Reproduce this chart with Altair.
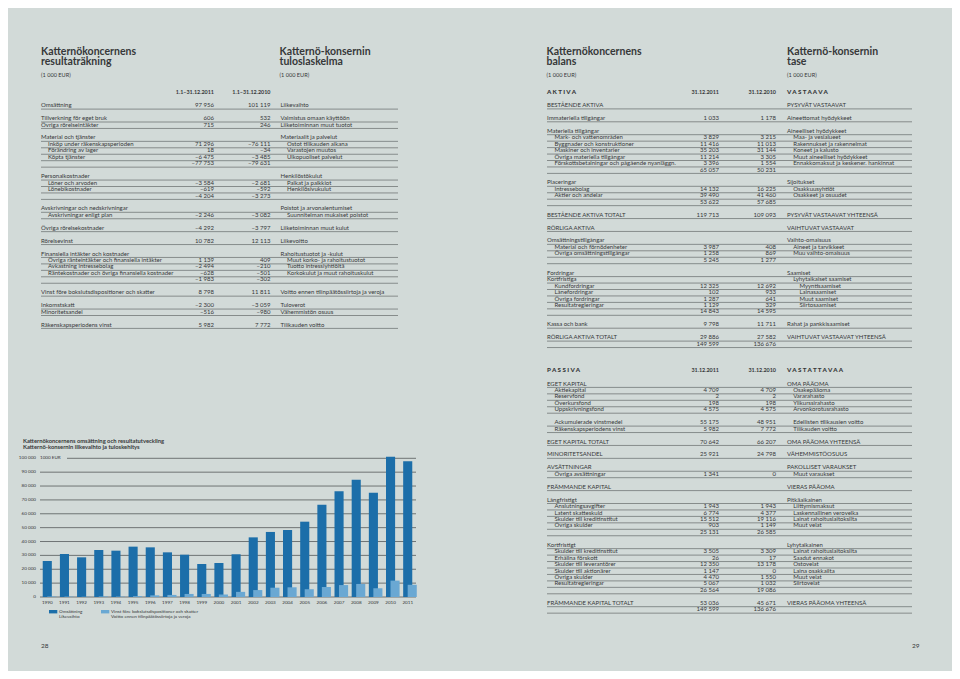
import altair as alt
import pandas as pd

# ---------------- data ----------------
years = [str(y) for y in range(1990, 2012)]
omsattning = [25900, 31000, 28600, 33900, 33400, 36300, 35800, 32200, 30500, 23800, 24500,
              30800, 43000, 46900, 48300, 54300, 66500, 76200, 84600, 75200, 101119, 97956]
vinst = [300, 300, 200, 400, 300, 600, 1200, 1500, 2200, 2200, 1800,
         3700, 5000, 6700, 7000, 5600, 7200, 8600, 9400, 6300, 11811, 8798]
y_ticks = [0, 10000, 20000, 30000, 40000, 50000, 60000, 70000, 80000, 90000, 100000]
y_tick_labels = ["0", "10 000", "20 000", "30 000", "40 000", "50 000", "60 000",
                 "70 000", "80 000", "90 000", "100 000"]
series_names = ["Omsättning|Likevaihto",
                "Vinst före bokslutsdispositioner och skatter|Voitto ennen tilinpäätössiirtoja ja veroja"]
series_colors = ["#1c6ea9", "#6aa8d3"]

left_titles = ["Katternökoncernens", "resultaträkning"]
left_titles_fi = ["Katternö-konsernin", "tuloslaskelma"]
right_titles = ["Katternökoncernens", "balans"]
right_titles_fi = ["Katternö-konsernin", "tase"]
unit_text = "(1 000 EUR)"
chart_title = ["Katternökoncernens omsättning och resultatutveckling",
               "Katternö-konsernin liikevaihto ja tuloskehitys"]
left_head = ["1.1–31.12.2011", "1.1–31.12.2010"]
right_head = ["31.12.2011", "31.12.2010"]

# (indent, svenska, 2011, 2010, suomi[, finnish indent]) ; None = empty row
income_rows = [
    (0, "Omsättning", "97 956", "101 119", "Liikevaihto"),
    None,
    (0, "Tillverkning för eget bruk", "606", "532", "Valmistus omaan käyttöön"),
    (0, "Övriga rörelseintäkter", "715", "246", "Liiketoiminnan muut tuotot"),
    None,
    (0, "Material och tjänster", "", "", "Materiaalit ja palvelut"),
    (1, "Inköp under räkenskapsperioden", "71 296", "–76 111", "Ostot tilikauden aikana"),
    (1, "Förändring av lager", "18", "–34", "Varastojen muutos"),
    (1, "Köpta tjänster", "–6 475", "–3 485", "Ulkopuoliset palvelut"),
    (0, "", "–77 753", "–79 631", ""),
    None,
    (0, "Personalkostnader", "", "", "Henkilöstökulut"),
    (1, "Löner och arvoden", "–3 584", "–2 681", "Palkat ja palkkiot"),
    (1, "Lönebikostnader", "–619", "–592", "Henkilösivukulut"),
    (0, "", "–4 204", "–3 273", ""),
    None,
    (0, "Avskrivningar och nedskrivningar", "", "", "Poistot ja arvonalentumiset"),
    (1, "Avskrivningar enligt plan", "–2 246", "–3 082", "Suunnitelman mukaiset poistot"),
    None,
    (0, "Övriga rörelsekostnader", "–4 292", "–3 797", "Liiketoiminnan muut kulut"),
    None,
    (0, "Rörelsevinst", "10 782", "12 113", "Liikevoitto"),
    None,
    (0, "Finansiella intäkter och kostnader", "", "", "Rahoitustuotot ja -kulut"),
    (1, "Övriga ränteintäkter och finansiella intäkter", "1 139", "409", "Muut korko- ja rahoitustuotot"),
    (1, "Avkastning intressebolag", "–2 494", "–210", "Tuotto intressiyhtiöltä"),
    (1, "Räntekostnader och övriga finansiella kostnader", "–628", "–501", "Korkokulut ja muut rahoituskulut"),
    (0, "", "–1 983", "–302", ""),
    None,
    (0, "Vinst före bokslutsdispositioner och skatter", "8 798", "11 811", "Voitto ennen tilinpäätössiirtoja ja veroja"),
    None,
    (0, "Inkomstskatt", "–2 300", "–3 059", "Tuloverot"),
    (0, "Minoritetsandel", "–516", "–980", "Vähemmistön osuus"),
    None,
    (0, "Räkenskapsperiodens vinst", "5 982", "7 772", "Tilikauden voitto"),
]

assets_head = ["AKTIVA", "VASTAAVA"]
assets_rows = [
    (0, "BESTÅENDE AKTIVA", "", "", "PYSYVÄT VASTAAVAT"),
    None,
    (0, "Immateriella tillgångar", "1 033", "1 178", "Aineettomat hyödykkeet"),
    None,
    (0, "Materiella tillgångar", "", "", "Aineelliset hyödykkeet"),
    (1, "Mark- och vattenområden", "3 829", "3 215", "Maa- ja vesialueet"),
    (1, "Byggnader och konstruktioner", "11 416", "11 013", "Rakennukset ja rakennelmat"),
    (1, "Maskiner och inventarier", "35 203", "31 144", "Koneet ja kalusto"),
    (1, "Övriga materiella tillgångar", "11 214", "3 305", "Muut aineelliset hyödykkeet"),
    (1, "Förskottsbetalningar och pågående nyanläggn.", "3 396", "1 554", "Ennakkomaksut ja keskener. hankinnat"),
    (0, "", "65 057", "50 231", ""),
    None,
    (0, "Placeringar", "", "", "Sijoitukset"),
    (1, "Intressebolag", "14 132", "16 225", "Osakkuusyhtiöt"),
    (1, "Aktier och andelar", "39 490", "41 460", "Osakkeet ja osuudet"),
    (0, "", "53 622", "57 685", ""),
    None,
    (0, "BESTÅENDE AKTIVA TOTALT", "119 713", "109 093", "PYSYVÄT VASTAAVAT YHTEENSÄ"),
    None,
    (0, "RÖRLIGA AKTIVA", "", "", "VAIHTUVAT VASTAAVAT"),
    None,
    (0, "Omsättningstillgångar", "", "", "Vaihto-omaisuus"),
    (1, "Material och förnödenheter", "3 987", "408", "Aineet ja tarvikkeet"),
    (1, "Övriga omsättningstillgångar", "1 258", "869", "Muu vaihto-omaisuus"),
    (0, "", "5 245", "1 277", ""),
    None,
    (0, "Fordringar", "", "", "Saamiset"),
    (0, "Kortfristiga", "", "", "Lyhytaikaiset saamiset", 1),
    (1, "Kundfordringar", "12 325", "12 692", "Myyntisaamiset", 2),
    (1, "Lånefordringar", "102", "933", "Lainasaamiset", 2),
    (1, "Övriga fordringar", "1 287", "641", "Muut saamiset", 2),
    (1, "Resultatregleringar", "1 129", "329", "Siirtosaamiset", 2),
    (0, "", "14 843", "14 595", ""),
    None,
    (0, "Kassa och bank", "9 798", "11 711", "Rahat ja pankkisaamiset"),
    None,
    (0, "RÖRLIGA AKTIVA TOTALT", "29 886", "27 582", "VAIHTUVAT VASTAAVAT YHTEENSÄ"),
    (0, "", "149 599", "136 676", ""),
]

liab_head = ["PASSIVA", "VASTATTAVAA"]
liab_rows = [
    (0, "EGET KAPITAL", "", "", "OMA PÄÄOMA"),
    (1, "Aktiekapital", "4 709", "4 709", "Osakepääoma"),
    (1, "Reservfond", "2", "2", "Vararahasto"),
    (1, "Överkursfond", "198", "198", "Ylikurssirahasto"),
    (1, "Uppskrivningsfond", "4 575", "4 575", "Arvonkorotusrahasto"),
    None,
    (1, "Ackumulerade vinstmedel", "55 175", "48 951", "Edellisten tilikausien voitto"),
    (1, "Räkenskapsperiodens vinst", "5 982", "7 772", "Tilikauden voitto"),
    None,
    (0, "EGET KAPITAL TOTALT", "70 642", "66 207", "OMA PÄÄOMA YHTEENSÄ"),
    None,
    (0, "MINORITETSANDEL", "25 921", "24 798", "VÄHEMMISTÖOSUUS"),
    None,
    (0, "AVSÄTTNINGAR", "", "", "PAKOLLISET VARAUKSET"),
    (1, "Övriga avsättningar", "1 341", "0", "Muut varaukset"),
    None,
    (0, "FRÄMMANDE KAPITAL", "", "", "VIERAS PÄÄOMA"),
    None,
    (0, "Långfristigt", "", "", "Pitkäaikainen"),
    (1, "Anslutningsavgifter", "1 943", "1 943", "Liittymismaksut"),
    (1, "Latent skatteskuld", "6 774", "4 377", "Laskennallinen verovelka"),
    (1, "Skulder till kreditinstitut", "15 512", "19 116", "Lainat rahoituslaitoksilta"),
    (1, "Övriga skulder", "903", "1 149", "Muut velat"),
    (0, "", "25 131", "26 585", ""),
    None,
    (0, "Kortfristigt", "", "", "Lyhytaikainen"),
    (1, "Skulder till kreditinstitut", "3 505", "3 309", "Lainat rahoituslaitoksilta"),
    (1, "Erhållna förskott", "26", "17", "Saadut ennakot"),
    (1, "Skulder till leverantörer", "12 350", "13 178", "Ostovelat"),
    (1, "Skulder till aktionärer", "1 147", "0", "Laina osakkailta"),
    (1, "Övriga skulder", "4 470", "1 550", "Muut velat"),
    (1, "Resultatregleringar", "5 067", "1 032", "Siirtovelat"),
    (0, "", "26 564", "19 086", ""),
    None,
    (0, "FRÄMMANDE KAPITAL TOTALT", "53 036", "45 671", "VIERAS PÄÄOMA YHTEENSÄ"),
    (0, "", "149 599", "136 676", ""),
]
page_numbers = ["28", "29"]

# ---------------- layout / style ----------------
BG = "#d2dad8"
INK = "#363839"
LINE = "#6c7172"
FONT = "Lato"
PITCH = 6.45
FS = 6.0
LINE_DY = 1.9
LEFT = dict(label=41, ind=7, v11=214, v10=270.5, fi=280.5, fi_ind=6.5, l0=41, l1=398)
RIGHT = dict(label=547, ind=7.5, v11=719, v10=776, fi=787, fi_ind=6.2, l0=547, l1=912)

PX = alt.Scale(domain=[8, 952], range=[0, 944], nice=False, zero=False)
PY = alt.Scale(domain=[8, 671], range=[0, 663], nice=False, zero=False)

reg_left, reg_right, bold_left, bold_right, black_left, center_txt = [], [], [], [], [], []
rules = []


def add_table(rows, lay, y0):
    for i, r in enumerate(rows):
        if r is None:
            continue
        lvl, sv, v11, v10, fi = r[:5]
        flvl = r[5] if len(r) > 5 else lvl
        y = y0 + i * PITCH
        if sv:
            reg_left.append(dict(x=lay["label"] + lvl * lay["ind"], y=y, t=sv, fs=FS))
        if fi:
            reg_left.append(dict(x=lay["fi"] + flvl * lay["fi_ind"], y=y, t=fi, fs=FS))
        if v11:
            reg_right.append(dict(x=lay["v11"], y=y, t=v11, fs=FS))
        if v10:
            reg_right.append(dict(x=lay["v10"], y=y, t=v10, fs=FS))
        rules.append(dict(x0=lay["l0"], x1=lay["l1"], y=y + LINE_DY))


def spaced(s):
    return " ".join(list(s))


# titles
for j, (a, b) in enumerate(zip(left_titles, left_titles_fi)):
    bold_left.append(dict(x=41, y=55 + j * 10.4, t=a, fs=10.5))
    bold_left.append(dict(x=279.5, y=55 + j * 10.4, t=b, fs=10.5))
for j, (a, b) in enumerate(zip(right_titles, right_titles_fi)):
    bold_left.append(dict(x=546.5, y=55 + j * 10.4, t=a, fs=10.5))
    bold_left.append(dict(x=787, y=55 + j * 10.4, t=b, fs=10.5))
for xx in (41, 279.5, 546.5, 787):
    reg_left.append(dict(x=xx, y=76.5, t=unit_text, fs=5.6))

# table headers
bold_right.append(dict(x=LEFT["v11"], y=94, t=left_head[0], fs=5.4))
bold_right.append(dict(x=LEFT["v10"], y=94, t=left_head[1], fs=5.4))
for hy, head in ((94, assets_head), (372, liab_head)):
    black_left.append(dict(x=RIGHT["label"], y=hy, t=spaced(head[0]), fs=6.2))
    black_left.append(dict(x=RIGHT["fi"], y=hy, t=spaced(head[1]), fs=6.2))
    bold_right.append(dict(x=RIGHT["v11"], y=hy, t=right_head[0], fs=5.4))
    bold_right.append(dict(x=RIGHT["v10"], y=hy, t=right_head[1], fs=5.4))

add_table(income_rows, LEFT, 107.2)
add_table(assets_rows, RIGHT, 107.0)
add_table(liab_rows, RIGHT, 385.5)

# bar chart title and legend text
for j, t in enumerate(chart_title):
    bold_left.append(dict(x=23, y=443 + j * 5.7, t=t, fs=5.8))
leg_x = [49, 101]
swatches = []
for k, name in enumerate(series_names):
    swatches.append(dict(x0=leg_x[k], x1=leg_x[k] + 8.3, y0=610, y1=613.4, s=name))
    for j, part in enumerate(name.split("|")):
        reg_left.append(dict(x=leg_x[k] + 10, y=613.4 + j * 4.5, t=part, fs=4.6))

# page numbers
reg_left.append(dict(x=41, y=647.5, t=page_numbers[0], fs=6.5))
reg_left.append(dict(x=912, y=647.5, t=page_numbers[1], fs=6.5))

COLOR = alt.Scale(domain=series_names, range=series_colors)


def text_layer(recs, align, weight):
    return alt.Chart(pd.DataFrame(recs)).mark_text(
        align=align, baseline="alphabetic", font=FONT, fontWeight=weight, color=INK
    ).encode(
        x=alt.X("x:Q", scale=PX, axis=None),
        y=alt.Y("y:Q", scale=PY, axis=None),
        text="t:N",
        size=alt.Size("fs:Q", scale=None, legend=None),
    )


rule_layer = alt.Chart(pd.DataFrame(rules)).mark_rule(color=LINE, strokeWidth=0.75).encode(
    x=alt.X("x0:Q", scale=PX, axis=None),
    x2="x1:Q",
    y=alt.Y("y:Q", scale=PY, axis=None),
)
swatch_layer = alt.Chart(pd.DataFrame(swatches)).mark_rect().encode(
    x=alt.X("x0:Q", scale=PX, axis=None),
    x2="x1:Q",
    y=alt.Y("y0:Q", scale=PY, axis=None),
    y2="y1:Q",
    color=alt.Color("s:N", scale=COLOR, legend=None),
)

page = alt.layer(
    rule_layer,
    swatch_layer,
    text_layer(reg_left, "left", "normal"),
    text_layer(reg_right, "right", "normal"),
    text_layer(bold_left, "left", "bold"),
    text_layer(bold_right, "right", "bold"),
    text_layer(black_left, "left", 900),
)

# ---------------- bar chart ----------------
bars_df = pd.DataFrame({"year": years, "oms": omsattning, "vinst": vinst})
ticks_df = pd.DataFrame({"v": y_ticks, "lab": y_tick_labels})
BX = alt.Scale(domain=years, range=[30.7, 408.3], paddingInner=0.47, paddingOuter=0.235)
BY = alt.Scale(domain=[0, 100000], range=[589, 450.3], nice=False, zero=True)

grid_low = alt.Chart(ticks_df[ticks_df.v < 100000]).mark_rule(color="#55595b", strokeWidth=0.8).encode(
    y=alt.Y("v:Q", scale=BY, axis=None), x=alt.value(32), x2=alt.value(408)
)
grid_top = alt.Chart(ticks_df[ticks_df.v == 100000]).mark_rule(color="#55595b", strokeWidth=0.8).encode(
    y=alt.Y("v:Q", scale=BY, axis=None), x=alt.value(59), x2=alt.value(408)
)
ylabels = alt.Chart(ticks_df).mark_text(
    align="right", baseline="middle", font=FONT, fontSize=4.6, color=INK
).encode(y=alt.Y("v:Q", scale=BY, axis=None), x=alt.value(28), text="lab:N")
unit_lab = alt.Chart(ticks_df[ticks_df.v == 100000]).mark_text(
    align="left", baseline="middle", font=FONT, fontSize=4.6, color=INK, text="1000 EUR"
).encode(y=alt.Y("v:Q", scale=BY, axis=None), x=alt.value(32))
dark = alt.Chart(bars_df).mark_bar(color=series_colors[0]).encode(
    x=alt.X("year:O", scale=BX, axis=None),
    y=alt.Y("oms:Q", scale=BY, axis=None),
)
light = alt.Chart(bars_df).mark_bar(color=series_colors[1], xOffset=4.5).encode(
    x=alt.X("year:O", scale=BX, axis=None),
    y=alt.Y("vinst:Q", scale=BY, axis=None),
)
year_labels = alt.Chart(bars_df).mark_text(
    align="center", baseline="middle", font=FONT, fontSize=4.6, color=INK, dy=5.6
).encode(
    x=alt.X("year:O", scale=BX, axis=None),
    y=alt.datum(0),
    text="year:N",
)

barchart = alt.layer(grid_low, grid_top, ylabels, unit_lab, dark, light, year_labels)

chart = alt.layer(page, barchart).resolve_scale(
    x="independent", y="independent"
).properties(
    width=944, height=663, padding=0,
    autosize=alt.AutoSizeParams(type="none"),
    background=BG,
).configure_view(stroke=None)

chart.save("out.html", embed_options={"renderer": "svg", "actions": False})
